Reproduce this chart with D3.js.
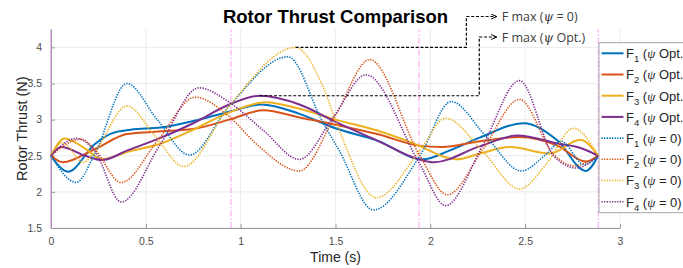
<!DOCTYPE html>
<html>
<head>
<meta charset="utf-8">
<script src="https://cdn.jsdelivr.net/npm/d3@7"></script>
<style>
  body { margin: 0; background: #fff; }
  svg text { font-family: Arial, "Liberation Sans", sans-serif; }
</style>
</head>
<body>
<div id="chart"></div>
<script>
// ---- data (time s, thrust N) ----
const xTicks = [0, 0.5, 1, 1.5, 2, 2.5, 3];
const yTicks = [1.5, 2, 2.5, 3, 3.5, 4];
const phaseMarks = [0, 0.949, 1.94, 2.885];

const f1Opt = [[0,2.5],[0.09,2.28],[0.23,2.66],[0.32,2.81],[0.42,2.86],[0.58,2.89],[0.75,2.98],[0.94,3.11],[1.11,3.21],[1.31,3.08],[1.5,2.88],[1.72,2.71],[1.96,2.45],[2.1,2.57],[2.26,2.75],[2.49,2.95],[2.67,2.71],[2.82,2.29],[2.885,2.5]];
const f2Opt = [[0,2.5],[0.063,2.41],[0.23,2.59],[0.4,2.8],[0.53,2.83],[0.75,2.87],[0.94,3.0],[1.12,3.13],[1.31,3.03],[1.5,2.93],[1.72,2.8],[1.94,2.64],[2.06,2.62],[2.26,2.7],[2.47,2.76],[2.67,2.64],[2.82,2.42],[2.885,2.5]];
const f3Opt = [[0,2.5],[0.072,2.74],[0.18,2.6],[0.27,2.45],[0.4,2.55],[0.58,2.67],[0.75,2.86],[0.94,3.1],[1.13,3.24],[1.31,3.15],[1.5,3.0],[1.72,2.85],[1.94,2.64],[2.08,2.48],[2.14,2.45],[2.26,2.53],[2.42,2.62],[2.63,2.53],[2.79,2.72],[2.885,2.5]];
const f4Opt = [[0,2.5],[0.054,2.62],[0.18,2.5],[0.27,2.44],[0.4,2.57],[0.58,2.75],[0.75,2.95],[0.94,3.21],[1.1,3.33],[1.31,3.21],[1.5,2.97],[1.72,2.71],[1.94,2.45],[2.02,2.41],[2.26,2.63],[2.46,2.78],[2.67,2.67],[2.8,2.6],[2.885,2.5]];
const f1Zero = [[0,2.5],[0.133,2.13],[0.23,2.52],[0.4,3.5],[0.56,3.0],[0.73,2.51],[0.94,3.19],[1.25,3.87],[1.43,2.98],[1.52,2.57],[1.7,1.75],[1.945,2.5],[2.11,3.25],[2.29,2.78],[2.48,2.29],[2.61,2.52],[2.69,2.7],[2.81,2.38],[2.885,2.5]];
const f2Zero = [[0,2.5],[0.16,2.73],[0.23,2.59],[0.37,2.13],[0.565,2.72],[0.76,3.31],[0.94,3.04],[1.08,2.67],[1.31,2.29],[1.5,3.06],[1.68,3.83],[1.945,2.5],[2.09,1.96],[2.28,2.6],[2.47,3.28],[2.65,2.52],[2.755,2.36],[2.885,2.5]];
const f3Zero = [[0,2.5],[0.06,2.68],[0.17,2.41],[0.23,2.55],[0.4,3.19],[0.55,2.77],[0.7,2.35],[0.94,3.19],[1.29,4.0],[1.43,3.48],[1.52,2.85],[1.715,1.92],[1.945,2.57],[2.08,3.02],[2.28,2.55],[2.47,2.04],[2.61,2.38],[2.755,2.88],[2.885,2.5]];
const f4Zero = [[0,2.5],[0.133,2.74],[0.23,2.57],[0.37,1.86],[0.575,2.65],[0.78,3.44],[0.94,3.24],[1.12,2.85],[1.31,2.45],[1.49,3.04],[1.66,3.62],[1.945,2.38],[2.08,1.81],[2.28,2.66],[2.47,3.54],[2.65,2.5],[2.77,2.33],[2.885,2.5]];

const seriesData = [f1Opt, f2Opt, f3Opt, f4Opt, f1Zero, f2Zero, f3Zero, f4Zero];
const seriesIndex = ['1', '2', '3', '4', '1', '2', '3', '4'];
const seriesTail = [' Opt.', ' Opt.', ' Opt.', ' Opt.', ' = 0)', ' = 0)', ' = 0)', ' = 0)'];
const colors = ['#0072BD', '#D95319', '#EDB120', '#7E2F8E'];

const width = 683, height = 268;
const margin = {top: 29.3, right: 63, bottom: 40, left: 51};

const svg = d3.select("#chart").append("svg")
  .attr("width", width)
  .attr("height", height);

const x = d3.scaleLinear().domain([0, 3]).range([margin.left, width - margin.right]);
const y = d3.scaleLinear().domain([1.5, 4.25]).range([height - margin.bottom, margin.top]);

// grid
svg.append("g").selectAll("line").data(xTicks).enter().append("line")
  .attr("x1", d => x(d)).attr("x2", d => x(d))
  .attr("y1", y(1.5)).attr("y2", y(4.25))
  .attr("stroke", "#ebebeb");
svg.append("g").selectAll("line").data(yTicks).enter().append("line")
  .attr("x1", x(0)).attr("x2", x(3))
  .attr("y1", d => y(d)).attr("y2", d => y(d))
  .attr("stroke", "#ebebeb");

// axes (inward ticks)
const xAxis = svg.append("g")
  .attr("transform", `translate(0,${y(1.5)})`)
  .call(d3.axisBottom(x).tickValues(xTicks).tickSizeInner(-4).tickSizeOuter(0).tickPadding(10).tickFormat(d3.format("")));
const yAxis = svg.append("g")
  .attr("transform", `translate(${x(0)},0)`)
  .call(d3.axisLeft(y).tickValues(yTicks).tickSizeInner(-4).tickSizeOuter(0).tickPadding(9).tickFormat(d3.format("")));
[xAxis, yAxis].forEach(a => {
  a.select(".domain").attr("stroke", "#9a9a9a");
  a.selectAll(".tick line").attr("stroke", "#9a9a9a");
  a.selectAll(".tick text").attr("fill", "#4d4d4d").style("font-size", "10.5px");
});

// phase markers
svg.append("g").selectAll("line").data(phaseMarks).enter().append("line")
  .attr("x1", d => x(d)).attr("x2", d => x(d))
  .attr("y1", y(1.5)).attr("y2", y(4.25))
  .attr("stroke", (d, i) => i === 0 ? "#c48ad2" : "#ff9cf0")
  .attr("stroke-width", 1)
  .attr("stroke-dasharray", (d, i) => i === 0 ? null : "6,2,1.5,2");

// curves
const line = d3.line()
  .x(d => x(d[0]))
  .y(d => y(d[1]))
  .curve(d3.curveMonotoneX);

svg.append("g").selectAll("path").data(seriesData).enter().append("path")
  .attr("d", line)
  .attr("fill", "none")
  .attr("stroke", (d, i) => colors[i % 4])
  .attr("stroke-width", (d, i) => i < 4 ? 2 : 1.6)
  .attr("stroke-dasharray", (d, i) => i < 4 ? null : "1.3,1.3");

// titles
svg.append("text")
  .attr("x", (x(0) + x(3)) / 2).attr("y", 22.7)
  .attr("text-anchor", "middle")
  .style("font-size", "18.5px").style("font-weight", "bold")
  .attr("fill", "#000")
  .text("Rotor Thrust Comparison");
svg.append("text")
  .attr("x", (x(0) + x(3)) / 2).attr("y", 262)
  .attr("text-anchor", "middle")
  .style("font-size", "14px").attr("fill", "#262626")
  .text("Time (s)");
svg.append("text")
  .attr("transform", `translate(27,${(y(1.5) + y(4.25)) / 2}) rotate(-90)`)
  .attr("text-anchor", "middle")
  .style("font-size", "14.5px").attr("fill", "#262626")
  .text("Rotor Thrust (N)");

// max annotations
svg.append("defs").append("marker")
  .attr("id", "arrow").attr("viewBox", "0 0 6 6")
  .attr("refX", 5.5).attr("refY", 3)
  .attr("markerWidth", 6).attr("markerHeight", 6)
  .attr("markerUnits", "userSpaceOnUse")
  .attr("orient", "auto")
  .append("path").attr("d", "M0,0.5L5.5,3L0,5.5")
  .attr("fill", "none").attr("stroke", "#000").attr("stroke-width", 1);

function peakOf(list) {
  let best = list[0][0];
  list.forEach(s => s.forEach(p => { if (p[1] > best[1]) best = p; }));
  return best;
}
const peakZero = peakOf([f1Zero, f2Zero, f3Zero, f4Zero]);
const peakOpt = peakOf([f1Opt, f2Opt, f3Opt, f4Opt]);
const notes = [
  {peak: peakZero, elbow: 2.19, labelY: 16.5, tail: " = 0)"},
  {peak: peakOpt, elbow: 2.258, labelY: 37, tail: " Opt.)"}
];
const arrowEnd = 2.35;
notes.forEach(n => {
  svg.append("path")
    .attr("d", `M${x(n.peak[0])},${y(n.peak[1])}H${x(n.elbow)}V${n.labelY}H${x(arrowEnd)}`)
    .attr("fill", "none").attr("stroke", "#000")
    .attr("stroke-width", 1.2).attr("stroke-dasharray", "3,1.8")
    .attr("marker-end", "url(#arrow)");
  const t = svg.append("text")
    .attr("x", x(arrowEnd) + 5).attr("y", n.labelY + 4.5)
    .attr("fill", "#404040")
    .style("font-family", "'Open Sans', sans-serif").style("font-size", "12.5px");
  t.append("tspan").text("F max (");
  t.append("tspan").style("font-style", "italic").style("font-family", "'DejaVu Serif', serif").text("ψ");
  t.append("tspan").text(n.tail);
});

// legend
const lg = svg.append("g");
lg.append("rect")
  .attr("x", 599).attr("y", 42.7).attr("width", 100).attr("height", 170)
  .attr("fill", "#fff").attr("stroke", "#a6a6a6").attr("stroke-width", 1);
const rows = lg.selectAll("g.row").data(seriesData).enter().append("g")
  .attr("transform", (d, i) => `translate(0,${53.3 + i * 21.2})`);
rows.append("line")
  .attr("x1", 601.5).attr("x2", 623.5)
  .attr("stroke", (d, i) => colors[i % 4])
  .attr("stroke-width", (d, i) => i < 4 ? 2 : 1.6)
  .attr("stroke-dasharray", (d, i) => i < 4 ? null : "1.3,1.3");
const lt = rows.append("text")
  .attr("x", 626).attr("y", 4.8)
  .attr("fill", "#262626").style("font-size", "13px");
lt.append("tspan").text("F");
lt.append("tspan").attr("dy", 4).style("font-size", "9.5px").text((d, i) => seriesIndex[i]);
lt.append("tspan").attr("dy", -4).text(" (");
lt.append("tspan").style("font-style", "italic").style("font-family", "'Liberation Serif', serif").style("font-size", "13px").text("ψ");
lt.append("tspan").text((d, i) => seriesTail[i]);
</script>
</body>
</html>
